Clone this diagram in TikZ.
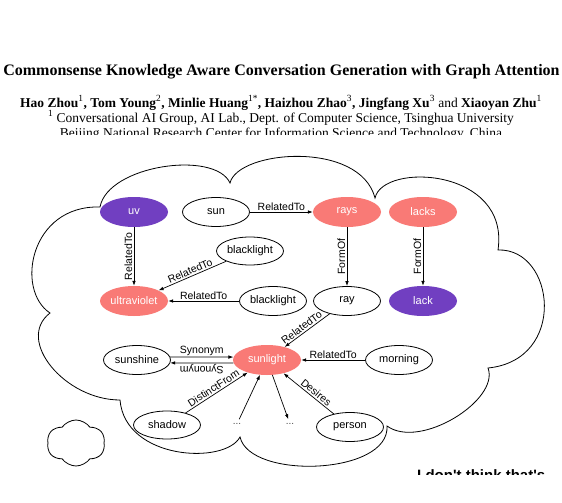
\documentclass[tikz,border=0pt]{standalone}
\usepackage{fontspec}
\setmainfont{Liberation Serif}
\newfontfamily\sansf{Liberation Sans}
\usetikzlibrary{shapes.geometric,shapes.symbols,arrows.meta}
\definecolor{uvpurple}{RGB}{113,63,193}
\definecolor{salmon}{RGB}{249,122,118}
\tikzset{
  ent/.style={ellipse, draw, line width=0.8pt, minimum width=67pt, minimum height=29pt, inner sep=0pt, font=\sansf\fontsize{11}{13}\selectfont},
  purp/.style={ellipse, fill=uvpurple, text=white, minimum width=68pt, minimum height=30pt, inner sep=0pt, font=\sansf\fontsize{11}{13}\selectfont},
  sal/.style={ellipse, fill=salmon, text=white, minimum width=68pt, minimum height=30pt, inner sep=0pt, font=\sansf\fontsize{11}{13}\selectfont},
  dotsn/.style={inner sep=4pt, font=\sansf\fontsize{10}{12}\selectfont, text=black!70},
  arr/.style={-{Latex[length=5pt,width=3.6pt]}, line width=0.7pt},
  lab/.style={font=\sansf\fontsize{10.5}{12}\selectfont, inner sep=1.5pt},
  cloudline/.style={line width=0.8pt},
  hdr/.style={anchor=base, inner sep=0pt}
}
\begin{document}
\begin{tikzpicture}[x=1pt,y=1pt]
\useasboundingbox (0,0) rectangle (562,-503);
\fill[white] (0,0) rectangle (562,-503);

% header
\node[hdr, font=\bfseries\fontsize{16}{19}\selectfont] (title) at (281.5,-75) {Commonsense Knowledge Aware Conversation Generation with Graph Attention};
\node[hdr, font=\fontsize{13.5}{16}\selectfont] (authors) at (281,-107) {\textbf{Hao Zhou}\textsuperscript{1}\textbf{, Tom Young}\textsuperscript{2}\textbf{, Minlie Huang}\textsuperscript{1*}\textbf{, Haizhou Zhao}\textsuperscript{3}\textbf{, Jingfang Xu}\textsuperscript{3} and \textbf{Xiaoyan Zhu}\textsuperscript{1}};
\node[hdr, font=\fontsize{13.5}{16}\selectfont] (affil) at (281,-122) {\textsuperscript{1} Conversational AI Group, AI Lab., Dept. of Computer Science, Tsinghua University};
\begin{scope}
\clip (0,-125) rectangle (562,-134.5);
\node[hdr, font=\fontsize{13.5}{16}\selectfont] (affilb) at (281,-137.5) {Beijing National Research Center for Information Science and Technology, China};
\end{scope}

% big cloud
\draw[cloudline] (100,-207) .. controls (108,-165) and (215,-150) .. (230,-183)
 .. controls (238,-150) and (360,-140) .. (375,-198)
 .. controls (383,-162) and (510,-168) .. (498,-250)
 .. controls (555,-248) and (568,-360) .. (488,-368)
 .. controls (500,-400) and (420,-450) .. (387,-426)
 .. controls (390,-475) and (250,-480) .. (240,-437)
 .. controls (225,-465) and (125,-460) .. (120,-400)
 .. controls (65,-400) and (15,-340) .. (50,-313)
 .. controls (15,-290) and (30,-205) .. (100,-207) -- cycle;

% small cloud
\node[cloud, draw, cloud puffs=6, cloud puff arc=110, aspect=1.25, minimum width=58pt, minimum height=46pt, inner sep=0pt, line width=0.8pt] (smallcloud) at (76,-443) {};

% nodes
\node[purp] (uv) at (134,-212) {uv};
\node[ent] (sun) at (216,-212) {sun};
\node[sal] (rays) at (347,-212) {rays};
\node[sal] (lacks) at (423,-212) {lacks};
\node[ent, minimum height=28pt] (bl1) at (250,-251) {blacklight};
\node[sal] (uvt) at (134,-301) {ultraviolet};
\node[ent] (bl2) at (273,-301) {blacklight};
\node[ent] (ray) at (347,-301) {ray};
\node[purp] (lack) at (423,-301) {lack};
\node[sal] (sunlight) at (267,-360) {sunlight};
\node[ent] (sunshine) at (137,-360) {sunshine};
\node[ent] (morning) at (399,-360) {morning};
\node[ent, minimum height=28pt] (shadow) at (167,-425) {shadow};
\node[ent] (person) at (350,-427) {person};
\node[dotsn] (dots1) at (237,-424) {...};
\node[dotsn] (dots2) at (290,-424) {...};

% edges
\draw[arr] (uv) -- node[lab, rotate=90, anchor=south]{RelatedTo} (uvt);
\draw[arr] (bl1) -- node[lab, sloped, above]{RelatedTo} (uvt);
\draw[arr] (bl2) -- node[lab, above]{RelatedTo} (uvt);
\draw[arr] (sun) -- node[lab, above]{RelatedTo} (rays);
\draw[arr] (rays) -- node[lab, rotate=90, anchor=south]{FormOf} (ray);
\draw[arr] (lacks) -- node[lab, rotate=90, anchor=south]{FormOf} (lack);
\draw[arr] (ray) -- node[lab, sloped, above, pos=0.55]{RelatedTo} (sunlight);
\draw[arr] (sunshine.5) -- node[lab, above]{Synonym} (sunlight.175);
\draw[arr] (sunlight.185) -- node[lab, rotate=180, anchor=south]{Synonym} (sunshine.355);
\draw[arr] (morning) -- node[lab, above]{RelatedTo} (sunlight);
\draw[arr] (shadow) -- node[lab, sloped, above]{DistinctFrom} (sunlight);
\draw[arr] (person) -- node[lab, sloped, above, pos=0.42]{Desires} (sunlight);
\draw[arr] (dots1) -- (sunlight);
\draw[arr] (sunlight) -- (dots2);

% cut-off caption text at bottom
\begin{scope}
\clip (400,-460) rectangle (562,-474);
\node[anchor=base west, inner sep=0pt, font=\sansf\bfseries\fontsize{15}{18}\selectfont] (quote) at (417,-480.5) {I don't think that's};
\end{scope}
\end{tikzpicture}
\end{document}
